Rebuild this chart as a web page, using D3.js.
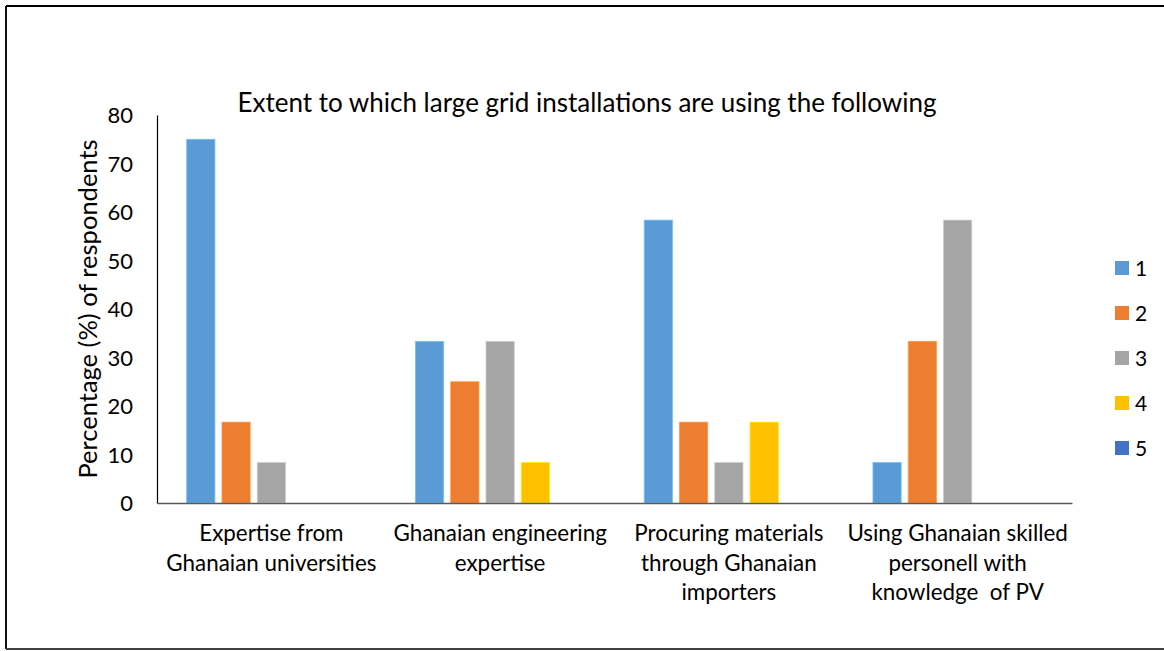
<!DOCTYPE html>
<html>
<head>
<meta charset="utf-8">
<script src="https://cdn.jsdelivr.net/npm/d3@7"></script>
<style>
  html, body { margin: 0; padding: 0; background: #fff; }
  svg { display: block; }
  text { font-family: Lato, "Open Sans", sans-serif; fill: #000; }
</style>
</head>
<body>
<script>
// ---- data ----
const categories = [
  ["Expertise from", "Ghanaian universities"],
  ["Ghanaian engineering", "expertise"],
  ["Procuring materials", "through Ghanaian", "importers"],
  ["Using Ghanaian skilled", "personell with", "knowledge  of PV"]
];
const seriesNames = ["1", "2", "3", "4", "5"];
const series1 = [75, 33.33, 58.33, 8.33];
const series2 = [16.67, 25, 16.67, 33.33];
const series3 = [8.33, 33.33, 8.33, 58.33];
const series4 = [0, 8.33, 16.67, 0];
const series5 = [0, 0, 0, 0];
const seriesValues = [series1, series2, series3, series4, series5];
const yTicks = [0, 10, 20, 30, 40, 50, 60, 70, 80];
const colors = ["#5B9BD5", "#ED7D31", "#A5A5A5", "#FFC000", "#4472C4"];
const titleText = "Extent to which large grid installations are using the following";
const yTitle = "Percentage (%) of respondents";

// ---- layout ----
const W = 1164, H = 651;
const svg = d3.select("body").append("svg").attr("width", W).attr("height", H);

// outer frame
svg.append("line").attr("x1", 6).attr("x2", W).attr("y1", 6).attr("y2", 6)
  .attr("stroke", "#000").attr("stroke-width", 2.2);
svg.append("line").attr("x1", 6).attr("x2", 6).attr("y1", 6).attr("y2", 649)
  .attr("stroke", "#111").attr("stroke-width", 2);
svg.append("line").attr("x1", 6).attr("x2", W).attr("y1", 649).attr("y2", 649)
  .attr("stroke", "#404040").attr("stroke-width", 2);

const plot = { left: 157, right: 1072, top: 115, bottom: 503 };

const x0 = d3.scaleBand().domain(d3.range(categories.length))
  .range([plot.left, plot.right]).paddingInner(0).paddingOuter(0);
const x1 = d3.scaleBand().domain(seriesNames)
  .range([29.7, x0.bandwidth() - 29.7]).paddingInner(0.2).paddingOuter(0);
const y = d3.scaleLinear().domain([0, 80]).range([plot.bottom, plot.top]);

// bars
seriesNames.forEach((s, si) => {
  svg.append("g").selectAll("rect")
    .data(seriesValues[si])
    .join("rect")
    .attr("x", (d, i) => x0(i) + x1(s))
    .attr("width", x1.bandwidth())
    .attr("y", d => y(d))
    .attr("height", d => y(0) - y(d))
    .attr("fill", colors[si])
    .attr("stroke", d3.color(colors[si]).brighter(0.6))
    .attr("stroke-width", d => d > 0 ? 0.8 : 0);
});

// y axis
const yAxis = d3.axisLeft(y).tickValues(yTicks).tickSize(0).tickPadding(24)
  .tickFormat(d3.format("d"));
const gy = svg.append("g").attr("transform", `translate(${plot.left},0)`).call(yAxis);
gy.select(".domain").attr("stroke", "#000").attr("stroke-width", 1.2);
gy.selectAll("text").style("font-size", "22px").style("font-family", "Lato, sans-serif")
  .attr("fill", "#000").attr("dy", "0.36em");

// x axis
const xAxis = d3.axisBottom(x0).tickSize(0).tickFormat("");
const gx = svg.append("g").attr("transform", `translate(0,${plot.bottom})`).call(xAxis);
gx.select(".domain").attr("stroke", "#595959").attr("stroke-width", 1.6);

// category labels
categories.forEach((lines, i) => {
  const t = svg.append("text")
    .attr("x", x0(i) + x0.bandwidth() / 2)
    .attr("y", 541)
    .attr("text-anchor", "middle")
    .style("font-size", "22.4px");
  lines.forEach((ln, li) => {
    t.append("tspan").attr("x", x0(i) + x0.bandwidth() / 2)
      .attr("dy", li === 0 ? 0 : 29.5).attr("xml:space", "preserve").text(ln);
  });
});

// title
svg.append("text").attr("x", 587).attr("y", 112).attr("text-anchor", "middle")
  .style("font-size", "26px").text(titleText);

// y title
svg.append("text")
  .attr("transform", `translate(97,${(plot.top + plot.bottom) / 2}) rotate(-90)`)
  .attr("text-anchor", "middle")
  .style("font-size", "25.5px").text(yTitle);

// legend
const lg = svg.append("g");
seriesNames.forEach((s, i) => {
  const cy = 268 + i * 45;
  lg.append("rect").attr("x", 1115).attr("y", cy - 7).attr("width", 14).attr("height", 14)
    .attr("fill", colors[i]);
  lg.append("text").attr("x", 1135).attr("y", cy).attr("dy", "0.36em")
    .style("font-size", "21px").text(s);
});
</script>
</body>
</html>
